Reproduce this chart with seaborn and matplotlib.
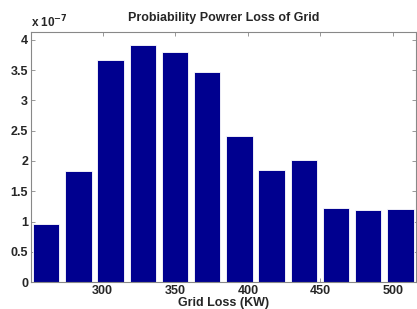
import numpy as np
import matplotlib
matplotlib.use("Agg")
import matplotlib.pyplot as plt
import seaborn as sns

# bin centres (KW) and probability per bin (x 1e-7)
grid_loss = [261.0, 283.2, 305.4, 327.6, 349.8, 372.0, 394.2, 416.4, 438.6, 460.8, 483.0, 505.2]
prob = [0.965, 1.835, 3.67, 3.92, 3.80, 3.46, 2.41, 1.85, 2.01, 1.23, 1.19, 1.20]
xticks = [300, 350, 400, 450, 500]
yticks = [0, 0.5, 1, 1.5, 2, 2.5, 3, 3.5, 4]

sns.set_style("white")
plt.rcParams.update({
    "font.family": ["Liberation Sans", "DejaVu Sans"],
    "font.weight": "bold",
    "xtick.direction": "in",
    "ytick.direction": "in",
})

fig = plt.figure(figsize=(4.17, 3.09), dpi=100)
ax = fig.add_axes([0.074, 0.087, 0.924, 0.808])

sns.barplot(x=grid_loss, y=prob, native_scale=True, width=0.82,
            color="#00008F", saturation=1, edgecolor="white", linewidth=0.6, ax=ax)

ax.set_xlim(250.5, 516)
ax.set_ylim(0, 4.12)
ax.set_xticks(xticks)
ax.set_xticklabels([str(t) for t in xticks], fontsize=9, fontweight="bold")
ax.set_yticks(yticks)
ax.set_yticklabels([f"{t:g}" for t in yticks], fontsize=9, fontweight="bold")
ax.tick_params(axis="both", length=3, width=0.6, color="#888888", pad=2,
               top=True, right=True, bottom=True, left=True)
for sp in ax.spines.values():
    sp.set_visible(True)
    sp.set_color("#888888")
    sp.set_linewidth(0.8)

ax.set_xlabel("Grid Loss (KW)", fontsize=9, fontweight="bold", labelpad=0)
ax.set_title("Probiability Powrer Loss of Grid", fontsize=9, fontweight="bold", pad=8)
ax.text(0.0, 1.01, r"x 10$^{-7}$", transform=ax.transAxes, fontsize=8.5,
        fontweight="bold", ha="left", va="bottom")

fig.savefig("out.png", dpi=100)
